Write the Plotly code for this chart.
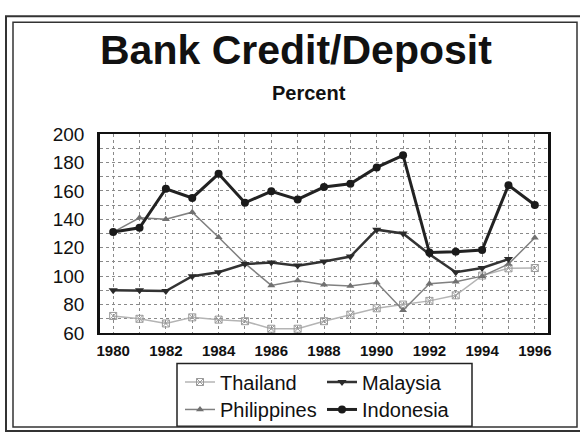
import plotly.graph_objects as go

years = list(range(1980, 1997))
thailand = [72, 70, 66.7, 71, 69.4, 68.3, 63, 63, 68.3, 72.9, 77.4, 80, 82.6, 86.5, 100.4, 105.5, 105.7]
philippines = [131, 141, 140, 145, 127.4, 109, 93.5, 97, 94, 93.1, 95.5, 76, 94.6, 96, 100, 108.5, 127]
malaysia = [90, 90, 89.5, 100, 102.7, 108.5, 109.6, 107.4, 110.3, 113.8, 132.7, 130, 115.4, 102.8, 105.7, 112, None]
indonesia = [131, 134, 161.5, 155, 172, 151.6, 159.7, 154, 162.7, 165, 176.5, 185, 116.6, 117.2, 118.4, 164, 150]

x_ticks = list(range(1980, 1997, 2))
y_ticks = list(range(60, 201, 20))

FONT = "Liberation Sans, Arial, sans-serif"

fig = go.Figure()
fig.add_trace(go.Scatter(x=years, y=thailand, name="Thailand", mode="lines+markers",
                         line=dict(color="#b4b4b4", width=1.5),
                         marker=dict(symbol="square-x-open", size=7, color="#9a9a9a"),
                         legend="legend"))
fig.add_trace(go.Scatter(x=years, y=philippines, name="Philippines", mode="lines+markers",
                         line=dict(color="#808080", width=1.5),
                         marker=dict(symbol="triangle-up", size=7, color="#707070"),
                         legend="legend3"))
fig.add_trace(go.Scatter(x=years, y=malaysia, name="Malaysia", mode="lines+markers",
                         line=dict(color="#333333", width=2.5),
                         marker=dict(symbol="triangle-down", size=8, color="#2a2a2a"),
                         legend="legend2"))
fig.add_trace(go.Scatter(x=years, y=indonesia, name="Indonesia", mode="lines+markers",
                         line=dict(color="#222222", width=3),
                         marker=dict(symbol="circle", size=8, color="#1a1a1a"),
                         legend="legend4"))

W, H = 580, 441
L, R, T, B = 100, 32, 134, 104
pw, ph = W - L - R, H - T - B

def px(xp):
    return (xp - L) / pw

def py(yp):
    return (H - B - yp) / ph

def leg(xp, yp):
    return dict(x=px(xp), y=py(yp), xanchor="left", yanchor="middle", orientation="v",
                font=dict(size=20, family=FONT, color="#111111"), bgcolor="rgba(0,0,0,0)",
                itemwidth=30, borderwidth=0)

fig.update_layout(
    width=W, height=H,
    margin=dict(l=L, r=R, t=T, b=B),
    paper_bgcolor="white", plot_bgcolor="white",
    font=dict(family=FONT, color="#111111"),
    showlegend=True,
    xaxis=dict(range=[1979.5, 1996.5], tickvals=x_ticks, ticktext=[str(v) for v in x_ticks],
               tickfont=dict(size=15, family=FONT, weight="bold"),
               showgrid=True, gridcolor="#8a8a8a", griddash="dot", gridwidth=1,
               minor=dict(dtick=1, tick0=1980, showgrid=True, gridcolor="#8a8a8a", griddash="dot", gridwidth=1),
               showline=True, linecolor="#111111", linewidth=2, mirror=True, zeroline=False,
               ticks="", ticklabelstandoff=3),
    yaxis=dict(range=[60, 200], tickvals=y_ticks, ticktext=[str(v) for v in y_ticks],
               tickfont=dict(size=19, family=FONT),
               showgrid=True, gridcolor="#8a8a8a", griddash="dot", gridwidth=1,
               minor=dict(dtick=10, tick0=60, showgrid=True, gridcolor="#8a8a8a", griddash="dot", gridwidth=1),
               showline=True, linecolor="#111111", linewidth=2.5, mirror=True, zeroline=False,
               ticks="", ticklabelstandoff=9),
    legend=leg(180, 387),
    legend2=leg(322, 387),
    legend3=leg(180, 415),
    legend4=leg(322, 415),
)

# Titles
fig.add_annotation(text="<b>Bank Credit/Deposit</b>", xref="paper", yref="paper",
                   x=px(296), y=py(48), xanchor="center", yanchor="middle", showarrow=False,
                   font=dict(size=41, family=FONT, color="#111111"))
fig.add_annotation(text="<b>Percent</b>", xref="paper", yref="paper",
                   x=px(309), y=py(92), xanchor="center", yanchor="middle", showarrow=False,
                   font=dict(size=20, family=FONT, color="#111111"))

# Legend frame
fig.add_shape(type="rect", xref="paper", yref="paper",
              x0=px(177), x1=px(472), y0=py(368), y1=py(432),
              line=dict(color="#222222", width=1.5), fillcolor="rgba(0,0,0,0)")
# Double outer frame
fig.add_shape(type="rect", xref="paper", yref="paper",
              x0=px(6), x1=px(590), y0=py(14), y1=py(437),
              line=dict(color="#333333", width=2), fillcolor="rgba(0,0,0,0)")
fig.add_shape(type="rect", xref="paper", yref="paper",
              x0=px(13), x1=px(577), y0=py(20), y1=py(433),
              line=dict(color="#333333", width=1.5), fillcolor="rgba(0,0,0,0)")

fig.write_html("out.html")
